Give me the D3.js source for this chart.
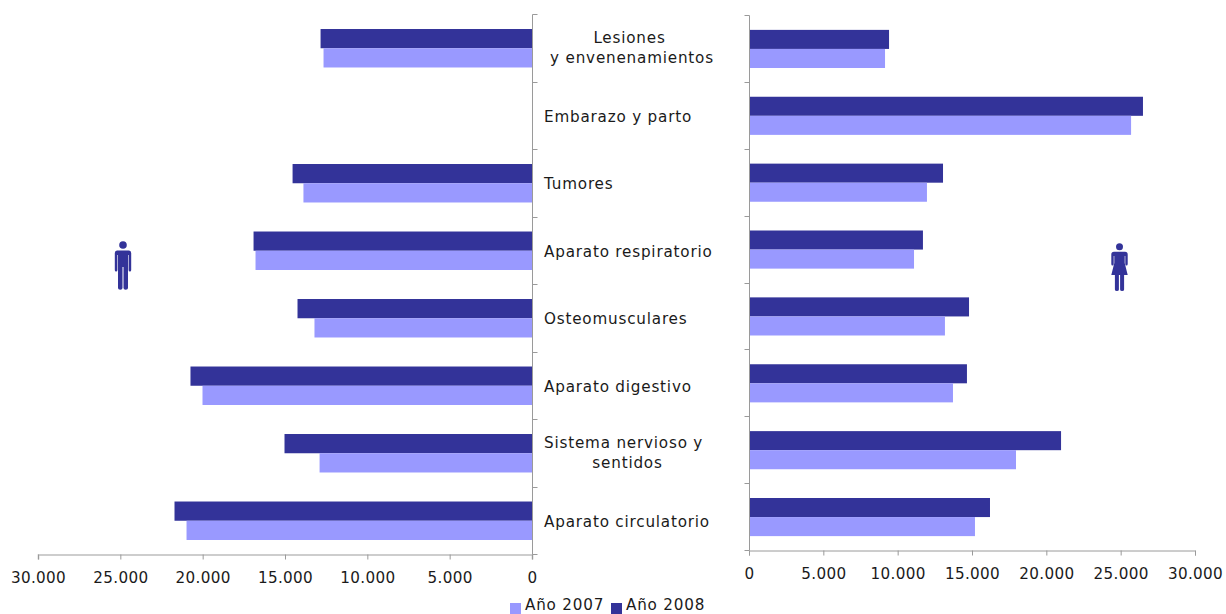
<!DOCTYPE html>
<html><head><meta charset="utf-8">
<script src="https://cdn.jsdelivr.net/npm/d3@7/dist/d3.min.js"></script>
<style>html,body{margin:0;padding:0;background:#fff;overflow:hidden}svg{display:block}
text{font-family:"DejaVu Sans",sans-serif;font-size:15.2px;fill:#1a1a1a;letter-spacing:.8px}</style></head><body>
<svg id="c" width="1226" height="614"></svg>
<script>
const categories=[["Lesiones","y envenenamientos"],["Embarazo y parto"],["Tumores"],["Aparato respiratorio"],["Osteomusculares"],["Aparato digestivo"],["Sistema nervioso y","sentidos"],["Aparato circulatorio"]];
const series=["Año 2008","Año 2007"];
const men2008=[12840,null,14540,16910,14240,20740,15030,21710];
const men2007=[12660,null,13880,16790,13210,20010,12900,20980];
const women2008=[9420,26500,13050,11700,14800,14660,20990,16210];
const women2007=[9150,25700,11970,11100,13180,13720,17960,15200];
const ticks=[0,5000,10000,15000,20000,25000,30000];
const colors={"Año 2008":"#333399","Año 2007":"#9999FF"};
const axisColor="#9a9a9a";
const svg=d3.select("#c");
const fmt=d3.formatLocale({decimal:",",thousands:".",grouping:[3],currency:["","€"]}).format(",d");
const ids=categories.map((_,i)=>i);

function panel(xr,yr,vals2008,vals2007,tickDir){
  const x=d3.scaleLinear().domain([0,30000]).range(xr);
  const y=d3.scaleBand().domain(ids).range(yr).paddingInner(.43).paddingOuter(.215);
  const s=d3.scaleBand().domain(series).range([0,y.bandwidth()]);
  const g=svg.append("g");
  series.forEach(n=>{
    const v=n==="Año 2008"?vals2008:vals2007;
    g.selectAll(null).data(ids.filter(i=>v[i]!=null)).enter().append("rect")
      .attr("x",i=>Math.min(x(0),x(v[i]))).attr("width",i=>Math.abs(x(v[i])-x(0)))
      .attr("y",i=>y(i)+s(n)).attr("height",s.bandwidth()).attr("fill",colors[n]);
  });
  const ax=g.append("g").attr("transform",`translate(0,${yr[1]})`)
    .call(d3.axisBottom(x).tickValues(ticks).tickFormat(fmt).tickSize(5).tickPadding(12.5));
  ax.selectAll("path,line").attr("stroke",axisColor);
  ax.selectAll("text").attr("font-size",15).attr("fill","#1a1a1a").style("font-family",'"DejaVu Sans",sans-serif').style("letter-spacing",".35px");
  const yv=d3.range(9).map(i=>yr[0]+i*(yr[1]-yr[0])/8);
  const ay=g.append("g").attr("transform",`translate(${xr[0]+.5},0)`);
  ay.append("line").attr("y1",yr[0]).attr("y2",yr[1]).attr("stroke",axisColor);
  ay.selectAll(null).data(yv).enter().append("line")
    .attr("x1",0).attr("x2",tickDir*5).attr("y1",d=>Math.floor(d)+.5).attr("y2",d=>Math.floor(d)+.5).attr("stroke",axisColor);
  return {y,ax};
}
const left=panel([532,38],[14.5,554.5],men2008,men2007,1);
left.ax.select("path").attr("stroke","#bdbdbd").attr("stroke-width",1.6);
const yL=left.y;
panel([749,1195],[15.5,550.5],women2008,women2007,-1);

const lab=svg.append("g");
categories.forEach((c,i)=>{
  const cy=yL(i)+yL.bandwidth()/2-.5;
  if(c.length===1){
    lab.append("text").attr("x",544).attr("y",cy+1).attr("dy","0.35em").text(c[0]);
  }else{
    c.forEach((t,k)=>{
      const start=i===6&&k===0;
      const tx=start?544:(i===6?627.5:(k===0?629.5:632));
      lab.append("text").attr("x",tx).attr("text-anchor",start?"start":"middle")
        .attr("y",cy+(k===0?-10:10)).attr("dy","0.35em").text(t);
    });
  }
});

const legendX=[510,611];
["Año 2007","Año 2008"].forEach((n,i)=>{
  svg.append("rect").attr("x",legendX[i]).attr("y",603).attr("width",11).attr("height",11).attr("fill",colors[n]);
  svg.append("text").attr("x",legendX[i]+15).attr("y",610.3).text(n);
});

const ink="#333399";
function man(cx,top){
  const g=svg.append("g").attr("transform",`translate(${cx},${top})`).attr("fill",ink);
  g.append("circle").attr("cx",0).attr("cy",4).attr("r",3.8);
  g.append("path").attr("d","M-6,9.5 Q-8.2,9.5 -8.2,12 L-8.2,29 Q-8.2,30.5 -6.9,30.5 Q-5.6,30.5 -5.6,29 L-5.6,14 L-5,14 L-5,47 Q-5,48.8 -2.7,48.8 Q-.5,48.8 -.5,47 L-.5,26 L.5,26 L.5,47 Q.5,48.8 2.7,48.8 Q5,48.8 5,47 L5,14 L5.6,14 L5.6,29 Q5.6,30.5 6.9,30.5 Q8.2,30.5 8.2,29 L8.2,12 Q8.2,9.5 6,9.5 Z");
}
function woman(cx,top){
  const g=svg.append("g").attr("transform",`translate(${cx},${top})`).attr("fill",ink);
  g.append("circle").attr("cx",0).attr("cy",3.7).attr("r",3.5);
  g.append("path").attr("d","M-5.5,8.8 Q-8.2,8.8 -8.2,11.5 L-8.2,21 Q-8.2,22.5 -7,22.5 Q-5.8,22.5 -5.8,21 L-5.8,13 L-5.2,13 L-5.2,20 L-8.2,32 L-4.6,32 L-4.6,46.5 Q-4.6,48 -2.6,48 Q-.6,48 -.6,46.5 L-.6,32 L.6,32 L.6,46.5 Q.6,48 2.6,48 Q4.6,48 4.6,46.5 L4.6,32 L8.2,32 L5.2,20 L5.2,13 L5.8,13 L5.8,21 Q5.8,22.5 7,22.5 Q8.2,22.5 8.2,21 L8.2,11.5 Q8.2,8.8 5.5,8.8 Z");
}
man(123,241);
woman(1119.5,243);
</script></body></html>
